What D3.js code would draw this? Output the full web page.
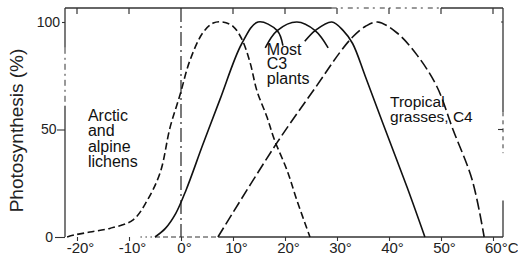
<!DOCTYPE html>
<html>
<head>
<meta charset="utf-8">
<script src="https://cdn.jsdelivr.net/npm/d3@7"></script>
<style>
  html, body { margin: 0; padding: 0; background: #fff; }
  svg { display: block; }
  text { font-family: "Liberation Sans", Arial, sans-serif; }
</style>
</head>
<body>
<svg id="chart" width="518" height="263"></svg>
<script>
// ---- data (temperature in °C, photosynthesis in % of maximum) ----
const xTicks = [-20, -10, 0, 10, 20, 30, 40, 50, 60];
const xTickLabels = ["-20°", "-10°", "0°", "10°", "20°", "30°", "40°", "50°", "60°C"];
const yTicks = [0, 50, 100];
const yTickLabels = ["0", "50", "100"];

// Arctic and alpine lichens (dashed)
const lichenTemp = [-21.9, -20.4, -17.5, -13.7, -9.2, -6.5, -4, -2.1, -0.2, 1.7, 4.2, 6.2, 8, 10, 11.7, 13.3, 14.6, 16.5, 18, 20.4, 22.3, 24.8];
const lichenPct  = [0, 1, 2.3, 4, 8, 17, 30, 51, 66, 82, 95, 99.5, 100, 98, 92, 81, 68, 56, 45, 31, 17, 0];

// Most C3 plants (solid): main curve (first hump) and two further humps
const c3MainTemp = [-5, -3, -1, 1, 4.2, 7.5, 11.7, 14.8, 18.5, 19.6];
const c3MainPct  = [0, 4, 11, 22, 43, 64, 90, 100, 96, 89];
const c3Hump2Temp = [16.2, 18.5, 22.3, 25.8, 28.3];
const c3Hump2Pct  = [88, 96, 100, 96, 88];
const c3Hump3Temp = [23.8, 25.8, 29, 31.2, 33, 35.4, 38.8, 43.5, 46.9];
const c3Hump3Pct  = [91, 96, 100, 96, 90, 75, 53, 23, 0];

// Tropical grasses, C4 (long dashes)
const c4Temp = [7.1, 18.5, 26, 30.6, 33, 35.5, 37.8, 41.5, 45.4, 49.2, 52.3, 56, 58.3];
const c4Pct  = [0, 44, 70, 86, 93, 98, 100, 95, 84.6, 70, 50, 26.5, 0];

const yTitle = "Photosynthesis (%)";
const lichenLabel = ["Arctic", "and", "alpine", "lichens"];
const c3Label = ["Most", "C3", "plants"];
const c4Label = ["Tropical", "grasses, C4"];

// ---- scales ----
const svg = d3.select("#chart");
const x = d3.scaleLinear().domain([0, 60]).range([181, 493]);
const y = d3.scaleLinear().domain([0, 100]).range([237, 22]);
const xMin = x.invert(65), xMax = x.invert(503);
const yTop = y.invert(8);

const frame = svg.append("g").attr("stroke", "#333").attr("fill", "none").attr("stroke-width", 1.3);
// top frame
frame.append("line").attr("x1", x(xMin)).attr("x2", x(29)).attr("y1", y(yTop)).attr("y2", y(yTop));
frame.append("line").attr("x1", x(29)).attr("x2", x(50)).attr("y1", y(yTop)).attr("y2", y(yTop))
  .attr("stroke-dasharray", "5,4,2,5").attr("stroke-width", 1);
frame.append("line").attr("x1", x(50)).attr("x2", x(xMax)).attr("y1", y(yTop)).attr("y2", y(yTop));
// left frame
frame.append("line").attr("x1", x(xMin)).attr("x2", x(xMin)).attr("y1", y(yTop)).attr("y2", y(88));
frame.append("line").attr("x1", x(xMin)).attr("x2", x(xMin)).attr("y1", y(88)).attr("y2", y(61))
  .attr("stroke-dasharray", "6,4,2,4").attr("stroke-width", 1);
frame.append("line").attr("x1", x(xMin)).attr("x2", x(xMin)).attr("y1", y(61)).attr("y2", y(0));
// right frame
frame.append("line").attr("x1", x(xMax)).attr("x2", x(xMax)).attr("y1", y(yTop)).attr("y2", y(58));
frame.append("line").attr("x1", x(xMax)).attr("x2", x(xMax)).attr("y1", y(58)).attr("y2", y(39))
  .attr("stroke-dasharray", "4,4").attr("stroke-width", 1);
frame.append("line").attr("x1", x(xMax)).attr("x2", x(xMax)).attr("y1", y(17)).attr("y2", y(0));
// right frame ticks
frame.selectAll("line.rtick").data([50, 100]).join("line").attr("class", "rtick")
  .attr("x1", x(xMax)).attr("x2", d => x(xMax) - (d === 50 ? 5 : 2))
  .attr("y1", d => y(d)).attr("y2", d => y(d)).attr("stroke-width", 1.1);
// bottom baseline
frame.append("line").attr("x1", x(-7.8)).attr("x2", x(-5)).attr("y1", y(0)).attr("y2", y(0))
  .attr("stroke-dasharray", "1.5,3.5").attr("stroke-width", 1);
frame.append("line").attr("x1", x(-5)).attr("x2", x(7.2)).attr("y1", y(0)).attr("y2", y(0))
  .attr("stroke-dasharray", "5,3").attr("stroke-width", 1);
frame.append("line").attr("x1", x(7.2)).attr("x2", x(xMax)).attr("y1", y(0)).attr("y2", y(0));
// top ticks
svg.append("g").attr("stroke", "#333").attr("stroke-width", 1.2)
  .selectAll("line").data(xTicks.filter(d => d !== 0)).join("line")
  .attr("x1", d => x(d)).attr("x2", d => x(d)).attr("y1", y(yTop)).attr("y2", y(yTop) + 6);

// zero degree dash-dot line
svg.append("line").attr("x1", x(0)).attr("x2", x(0)).attr("y1", y(yTop)).attr("y2", y(0))
  .attr("stroke", "#222").attr("stroke-width", 1.2).attr("stroke-dasharray", "14,4,2,4");

// ---- axes ----
const xAxis = svg.append("g").attr("transform", `translate(0,${y(0)})`)
  .call(d3.axisBottom(x).tickValues(xTicks).tickFormat((d, i) => xTickLabels[i]).tickSize(4).tickPadding(1));
xAxis.select(".domain").remove();
xAxis.selectAll(".tick line").attr("stroke", "#333").attr("stroke-width", 1.1);
xAxis.selectAll(".tick text")
  .attr("font-size", 15).attr("fill", "#222")
  .attr("font-family", "'Liberation Sans', Arial, sans-serif")
  .attr("text-anchor", (d, i) => xTickLabels[i].endsWith("C") ? "start" : "middle")
  .attr("dx", (d, i) => xTickLabels[i].endsWith("C") ? -8.5 : 3);

const yAxis = svg.append("g").attr("transform", `translate(${x(xMin)},0)`)
  .call(d3.axisLeft(y).tickValues(yTicks).tickFormat((d, i) => yTickLabels[i]).tickSize(6).tickPadding(3));
yAxis.select(".domain").remove();
yAxis.selectAll(".tick line").attr("stroke", "#333").attr("stroke-width", 1.1)
  .attr("x2", d => d === 100 ? -3 : (d === 0 ? -10 : -8));
yAxis.selectAll(".tick text")
  .attr("font-size", 14).attr("fill", "#222")
  .attr("font-family", "'Liberation Sans', Arial, sans-serif")
  .attr("x", d => d === 100 ? -5 : (d === 0 ? -12 : -8.5));

// ---- curves ----
const line = d3.line().x(d => x(d[0])).y(d => y(d[1])).curve(d3.curveCatmullRom.alpha(0.5));
const zip = (a, b) => a.map((v, i) => [v, b[i]]);

const curves = svg.append("g").attr("fill", "none").attr("stroke", "#111").attr("stroke-width", 1.6);
curves.append("path").attr("d", line(zip(lichenTemp, lichenPct))).attr("stroke-dasharray", "7,3.5");
curves.append("path").attr("d", line(zip(c3MainTemp, c3MainPct)));
curves.append("path").attr("d", line(zip(c3Hump2Temp, c3Hump2Pct)));
curves.append("path").attr("d", line(zip(c3Hump3Temp, c3Hump3Pct)));
curves.append("path").attr("d", line(zip(c4Temp, c4Pct))).attr("stroke-dasharray", "11,4");

// ---- labels ----
svg.append("text")
  .attr("transform", `translate(23,${(y(100) + y(0)) / 2 + 1}) rotate(-90)`)
  .attr("text-anchor", "middle").attr("font-size", 19).attr("fill", "#222")
  .text(yTitle);

function block(lines, t, p, size, lh) {
  const g = svg.append("text").attr("font-size", size).attr("fill", "#111");
  lines.forEach((s, i) => {
    g.append("tspan").attr("x", x(t)).attr("y", y(p) + i * lh).text(s);
  });
}
block(lichenLabel, -17.9, 54, 16, 15.5);
block(c3Label, 16.5, 84.7, 16, 14.5);
block(c4Label, 40.2, 60.5, 15.5, 15.5);
</script>
</body>
</html>
